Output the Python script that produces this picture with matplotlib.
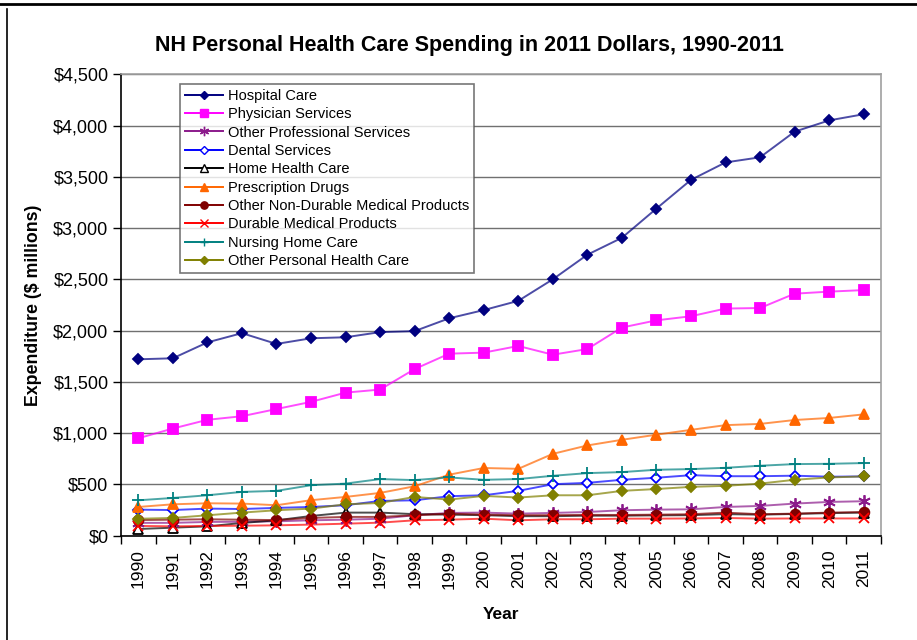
import numpy as np
import matplotlib
matplotlib.use('Agg')
import matplotlib.pyplot as plt
from matplotlib.ticker import FuncFormatter, MultipleLocator
from matplotlib.lines import Line2D

plt.rcParams['font.family'] = ['Liberation Sans', 'DejaVu Sans']

years = list(range(1990, 2012))

hospital = [1720, 1730, 1885, 1975, 1870, 1925, 1935, 1985, 1995, 2120, 2200, 2290,
            2500, 2740, 2905, 3190, 3470, 3640, 3690, 3940, 4050, 4110]
physician = [950, 1045, 1130, 1165, 1235, 1305, 1395, 1425, 1625, 1775, 1785, 1850,
             1765, 1820, 2030, 2100, 2140, 2215, 2220, 2360, 2380, 2395]
other_prof = [125, 125, 134, 136, 140, 150, 156, 165, 200, 222, 225, 215,
              222, 231, 248, 254, 257, 280, 290, 313, 329, 336]
dental = [254, 250, 264, 260, 271, 280, 297, 339, 345, 385, 394, 437,
          502, 515, 545, 565, 590, 580, 580, 585, 575, 578]
home_health = [65, 78, 91, 124, 150, 192, 225, 225, 210, 205, 200, 190,
               190, 195, 195, 198, 200, 210, 205, 212, 220, 225]
rx_drugs = [280, 306, 316, 313, 297, 346, 378, 417, 482, 595, 660, 652,
            798, 880, 935, 985, 1032, 1078, 1090, 1128, 1148, 1183]
other_nondur = [152, 156, 160, 156, 152, 173, 183, 183, 199, 215, 205, 199,
                200, 203, 202, 205, 209, 225, 209, 215, 225, 231]
durable = [95, 91, 95, 97, 101, 108, 117, 127, 150, 156, 166, 150,
           160, 160, 166, 166, 168, 173, 166, 168, 168, 168]
nursing = [345, 368, 394, 427, 437, 492, 508, 552, 542, 568, 545, 552,
           584, 610, 620, 643, 649, 662, 682, 698, 701, 708]
other_personal = [165, 173, 199, 225, 248, 264, 306, 319, 378, 352, 388, 372,
                  394, 394, 437, 455, 476, 486, 508, 545, 568, 578]

series = [
    ('Hospital Care', hospital, '#000080', 'D', 5.5, True),
    ('Physician Services', physician, '#FF00FF', 's', 7, True),
    ('Other Professional Services', other_prof, '#8B1A8B', (6, 2, 0), 9, True),
    ('Dental Services', dental, '#0000FF', 'D', 5.5, False),
    ('Home Health Care', home_health, '#000000', '^', 7, False),
    ('Prescription Drugs', rx_drugs, '#FF6600', '^', 7.5, True),
    ('Other Non-Durable Medical Products', other_nondur, '#800000', 'o', 7, True),
    ('Durable Medical Products', durable, '#FF0000', 'x', 7, True),
    ('Nursing Home Care', nursing, '#008080', '+', 8, True),
    ('Other Personal Health Care', other_personal, '#808000', 'D', 5.5, True),
]

fig = plt.figure(figsize=(9.17, 6.4), dpi=100)
ax = fig.add_axes([0.132, 0.163, 0.8287, 0.721])

handles = []
for name, vals, col, mk, ms, filled in series:
    face = col if filled else 'white'
    ax.plot(years, vals, color=col, lw=1.4, alpha=0.7, zorder=3)
    ax.plot(years, vals, ls='none', marker=mk, markersize=ms,
            markerfacecolor=face, markeredgecolor=col, markeredgewidth=1.3,
            zorder=4)
    handles.append(Line2D([], [], color=col, lw=1.4, marker=mk,
                          markersize=ms * 0.75, markerfacecolor=face,
                          markeredgecolor=col, markeredgewidth=1.0, label=name))

ax.set_xlim(1989.5, 2011.5)
ax.set_ylim(0, 4500)
ax.yaxis.set_major_locator(MultipleLocator(500))
ax.yaxis.set_major_formatter(FuncFormatter(lambda v, p: '${:,.0f}'.format(v)))
ax.set_xticks(years)
ax.set_xticklabels([str(y) for y in years], rotation=90, fontsize=12.5)
ax.set_xticks(np.arange(1989.5, 2012, 1), minor=True)
ax.tick_params(axis='x', which='major', length=0, pad=10)
ax.tick_params(axis='x', which='minor', length=6, direction='out', width=1)
ax.tick_params(axis='y', length=6, direction='out', width=1, labelsize=13, pad=3)

ax.grid(axis='y', color='#707070', lw=1.0, zorder=0)
for s in ['top', 'right']:
    ax.spines[s].set_color('#A0A0A0')
    ax.spines[s].set_linewidth(1.2)
for s in ['left', 'bottom']:
    ax.spines[s].set_color('black')
    ax.spines[s].set_linewidth(1.2)

ax.set_ylabel('Expenditure ($ millions)', fontsize=12.8, fontweight='bold', labelpad=8)
ax.set_xlabel('Year', fontsize=12.5, fontweight='bold', labelpad=13)
fig.text(0.512, 0.929, 'NH Personal Health Care Spending in 2011 Dollars, 1990-2011',
         ha='center', va='center', fontsize=15.5, fontweight='bold')

leg = ax.legend(handles=handles, loc='upper left', bbox_to_anchor=(0.078, 0.978),
                fontsize=10.5, frameon=True, fancybox=False, edgecolor='#555555',
                handlelength=2.6, handletextpad=0.4, labelspacing=0.3,
                borderpad=0.3, borderaxespad=0)
leg.get_frame().set_linewidth(1.2)

# page border lines
fig.add_artist(Line2D([0, 1], [0.994, 0.994], color='black', lw=2,
                      transform=fig.transFigure))
fig.add_artist(Line2D([0.0077, 0.0077], [0, 0.986], color='black', lw=1.2,
                      transform=fig.transFigure))

fig.savefig('out.png', dpi=100)
